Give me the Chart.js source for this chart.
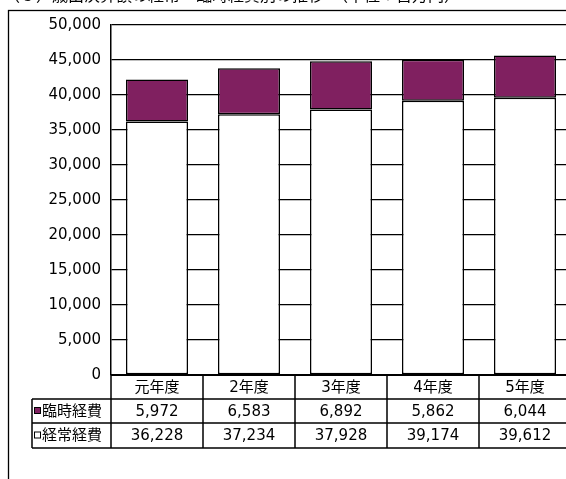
<!DOCTYPE html>
<html><head><meta charset="utf-8">
<script src="https://cdn.jsdelivr.net/npm/chart.js@4"></script>
<style>
html,body{margin:0;padding:0;overflow:hidden;background:#fff;width:566px;height:479px;}
#wrap{position:absolute;left:0;top:0;width:640px;height:520px;}
</style></head>
<body>
<div id="wrap"><canvas id="c" width="640" height="520"></canvas></div>
<script>
const titleText = '（３）歳出決算額の経常・臨時経費別の推移　（単位：百万円）';
const categories = ['元年度','2年度','3年度','4年度','5年度'];
const seriesNames = ['臨時経費','経常経費'];
const rinjiValues = [5972, 6583, 6892, 5862, 6044];
const keijoValues = [36228, 37234, 37928, 39174, 39612];
const yTickValues = [0,5000,10000,15000,20000,25000,30000,35000,40000,45000,50000];

const PURPLE = '#802060';
const FONT = "'DejaVu Sans', 'Noto Sans CJK JP', sans-serif";
const fmt = v => v.toLocaleString('en-US');

const framePlugin = {
  id: 'frame',
  beforeDraw(chart) {
    const ctx = chart.ctx;
    ctx.save();
    ctx.fillStyle = '#fff';
    ctx.fillRect(0, 0, chart.width, chart.height);
    ctx.strokeStyle = '#000';
    ctx.lineWidth = 1.3;
    ctx.strokeRect(8.5, 10.5, 700, 600);
    ctx.fillStyle = '#000';
    ctx.font = '16px ' + FONT;
    ctx.textBaseline = 'bottom';
    ctx.textAlign = 'left';
    ctx.fillText(titleText, 4, 5);
    ctx.restore();
  }
};

const tablePlugin = {
  id: 'dataTable',
  afterDraw(chart) {
    const ctx = chart.ctx;
    const a = chart.chartArea;
    const xs = chart.scales.x;
    const half = (xs.getPixelForValue(1) - xs.getPixelForValue(0)) / 2;
    const legendLeft = 32;
    const r0 = a.bottom, r1 = r0 + 24, r2 = r1 + 24, r3 = r2 + 25;
    const right = xs.getPixelForValue(categories.length - 1) + half;
    ctx.save();
    ctx.strokeStyle = '#000';
    ctx.lineWidth = 1.5;
    ctx.beginPath();
    // horizontal lines
    ctx.moveTo(legendLeft, r1); ctx.lineTo(right, r1);
    ctx.moveTo(legendLeft, r2); ctx.lineTo(right, r2);
    ctx.moveTo(legendLeft, r3); ctx.lineTo(right, r3);
    // vertical lines
    ctx.moveTo(legendLeft, r1); ctx.lineTo(legendLeft, r3);
    for (let i = 0; i <= categories.length; i++) {
      const xb = xs.getPixelForValue(0) - half + i * 2 * half;
      ctx.moveTo(xb, r0); ctx.lineTo(xb, r3);
    }
    ctx.stroke();
    // axis bottom line thicker
    ctx.lineWidth = 2;
    ctx.beginPath();
    ctx.moveTo(a.left, r0); ctx.lineTo(right, r0);
    ctx.stroke();

    ctx.fillStyle = '#000';
    ctx.font = '15px ' + FONT;
    ctx.textAlign = 'center';
    ctx.textBaseline = 'middle';
    categories.forEach((c, i) => {
      const cx = xs.getPixelForValue(i);
      ctx.fillText(c, cx, (r0 + r1) / 2 + 1);
      ctx.fillText(fmt(rinjiValues[i]), cx, (r1 + r2) / 2 + 1);
      ctx.fillText(fmt(keijoValues[i]), cx, (r2 + r3) / 2 + 1);
    });
    // legend cells
    ctx.textAlign = 'left';
    ctx.font = '15px ' + FONT;
    ctx.lineWidth = 1;
    // purple marker
    ctx.fillStyle = PURPLE;
    ctx.fillRect(34, (r1 + r2) / 2 - 4, 7, 7);
    ctx.strokeRect(34.5, (r1 + r2) / 2 - 3.5, 6, 6);
    ctx.fillStyle = '#fff';
    ctx.fillRect(34, (r2 + r3) / 2 - 4, 7, 7);
    ctx.strokeRect(34.5, (r2 + r3) / 2 - 3.5, 6, 6);
    ctx.fillStyle = '#000';
    ctx.fillText(seriesNames[0], 42, (r1 + r2) / 2 + 1);
    ctx.fillText(seriesNames[1], 42, (r2 + r3) / 2 + 1);
    ctx.restore();
  }
};

new Chart(document.getElementById('c'), {
  type: 'bar',
  data: {
    labels: categories,
    datasets: [
      { label: seriesNames[1], data: keijoValues, backgroundColor: '#fff', borderColor: '#000', borderWidth: 1.5, borderSkipped: false },
      { label: seriesNames[0], data: rinjiValues, backgroundColor: PURPLE, borderColor: '#000', borderWidth: 1.5, borderSkipped: false }
    ]
  },
  options: {
    responsive: false,
    devicePixelRatio: 1,
    animation: false,
    layout: { padding: { left: 0, top: 25, right: 69, bottom: 145 } },
    plugins: { legend: { display: false }, tooltip: { enabled: false }, title: { display: false } },
    datasets: { bar: { categoryPercentage: 1, barPercentage: 0.674 } },
    scales: {
      x: {
        stacked: true,
        display: false,
        offset: true
      },
      y: {
        stacked: true,
        min: 0, max: 50000,
        afterFit(scale) { scale.width = 111; },
        afterBuildTicks(scale) { scale.ticks = yTickValues.map(v => ({ value: v })); },
        ticks: {
          color: '#000',
          font: { family: FONT, size: 15 },
          padding: 10,
          callback: v => fmt(v)
        },
        grid: { color: '#000', lineWidth: 1.3, drawTicks: false },
        border: { color: '#000', width: 1.5 }
      }
    }
  },
  plugins: [framePlugin, tablePlugin]
});
</script>
</body></html>
